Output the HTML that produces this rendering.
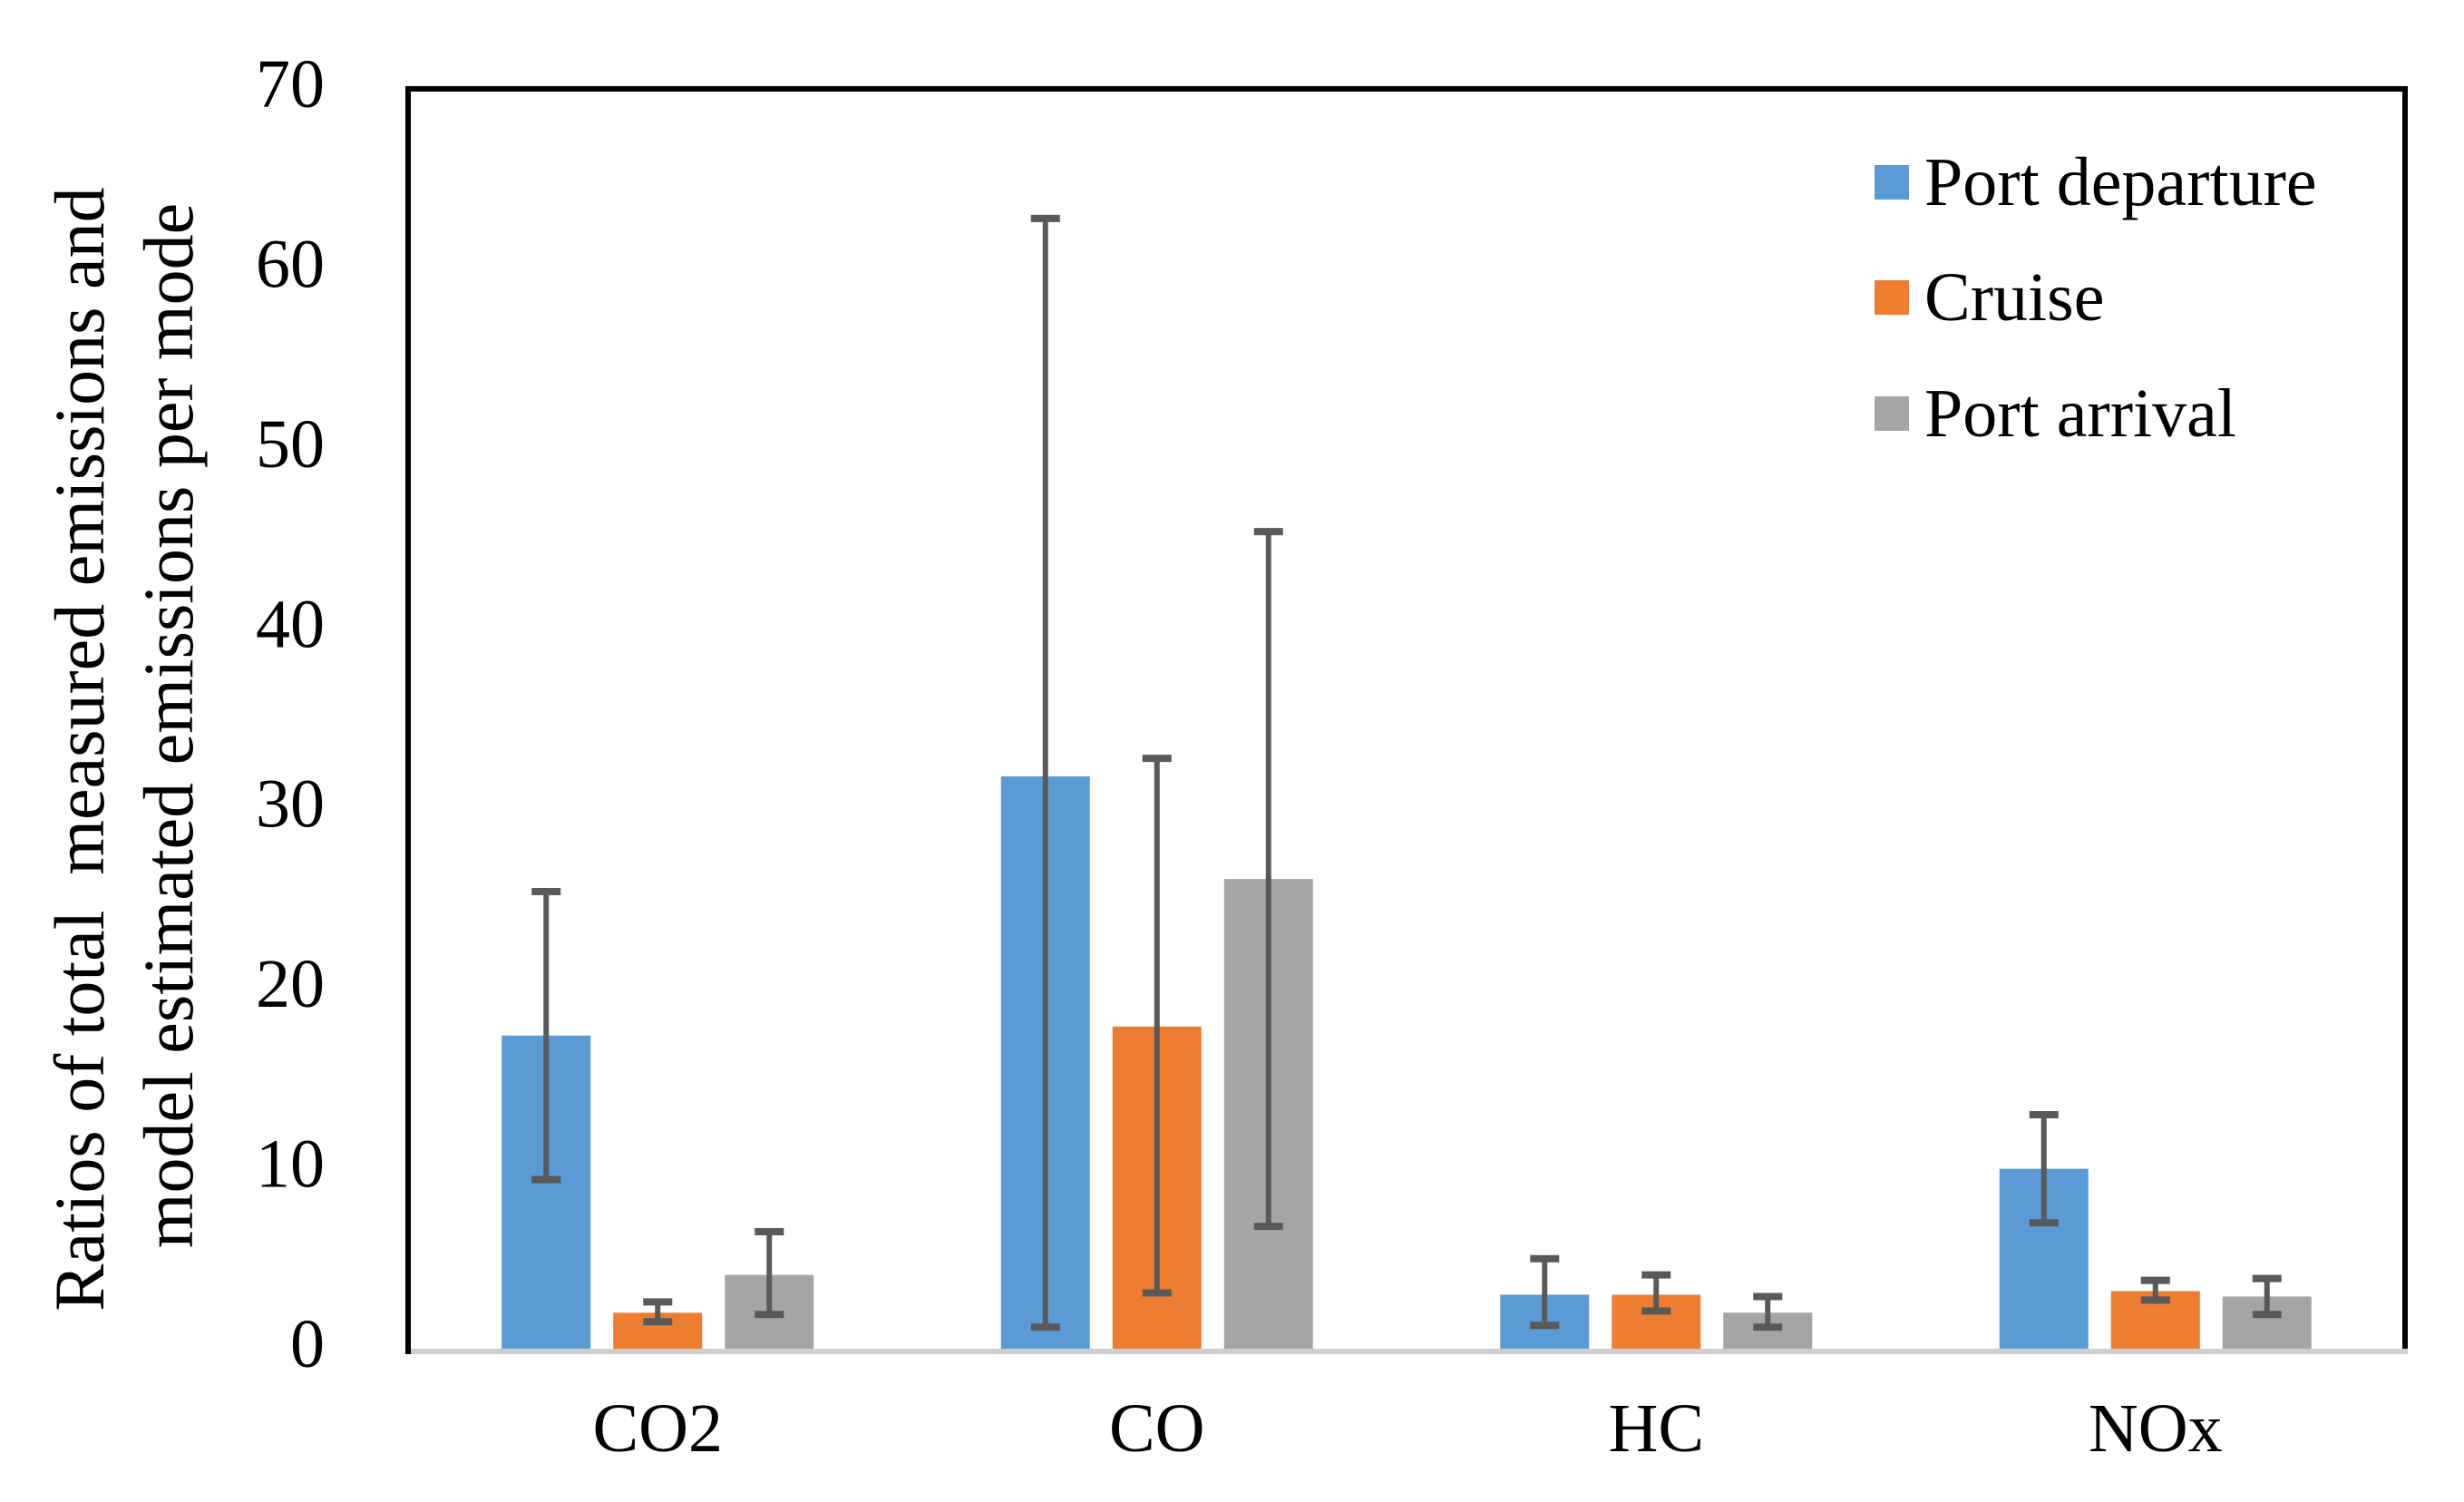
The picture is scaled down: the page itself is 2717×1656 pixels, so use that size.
<!DOCTYPE html>
<html><head><meta charset="utf-8"><style>
html,body{margin:0;padding:0;background:#fff;}
svg{display:block;font-family:"Liberation Serif",serif;}
</style></head><body>
<svg id="chart" width="2717" height="1656" viewBox="0 0 2717 1656" xmlns="http://www.w3.org/2000/svg">
<rect x="0" y="0" width="2717" height="1656" fill="#fff"/>
<g id="bars"></g>
<g id="errs"></g>
<path d="M450,1490 L450,98 L2652,98 L2652,1490" fill="none" stroke="#000" stroke-width="6"/>
<line x1="447" y1="1490" x2="2655" y2="1490" stroke="#cfcfcf" stroke-width="6"/>
<line x1="450" y1="98" x2="450" y2="1493" stroke="#000" stroke-width="6"/>
<g id="yticks" font-size="76" text-anchor="end"></g>
<g id="xticks" font-size="76" text-anchor="middle"></g>
<g font-size="78" text-anchor="middle">
<text transform="translate(114,826) rotate(-90)" xml:space="preserve">Ratios of total  measured emissions and</text>
<text transform="translate(212,800) rotate(-90)">model estimated emissions per mode</text>
</g>
<g id="legend" font-size="76"></g>
</svg>
<script>
const categories = ["CO2", "CO", "HC", "NOx"];
const seriesNames = ["Port departure", "Cruise", "Port arrival"];
const seriesColors = ["#5b9bd5", "#ed7d31", "#a5a5a5"];
const departure = [17.4, 31.8, 3.0, 10.0];
const cruise = [2.0, 17.9, 3.0, 3.2];
const arrival = [4.1, 26.1, 2.0, 2.9];
const departureHigh = [25.4, 62.8, 5.0, 13.0];
const departureLow = [9.4, 1.2, 1.3, 7.0];
const cruiseHigh = [2.6, 32.8, 4.1, 3.8];
const cruiseLow = [1.5, 3.1, 2.1, 2.7];
const arrivalHigh = [6.5, 45.4, 2.9, 3.9];
const arrivalLow = [1.9, 6.8, 1.2, 1.9];
const yTicks = [0, 10, 20, 30, 40, 50, 60, 70];

const NS = "http://www.w3.org/2000/svg";
const plotL = 450, plotR = 2652, plotT = 98, plotB = 1487, yMax = 70;
function y(v){ return plotB - v / yMax * (plotB - plotT); }
const band = (plotR - plotL) / categories.length;
function xCenter(i){ return plotL + band * (i + 0.5); }
const barW = 98, step = 123;
function mk(tag, attrs, parent){ const e = document.createElementNS(NS, tag); for (const k in attrs) e.setAttribute(k, attrs[k]); parent.appendChild(e); return e; }

const values = [departure, cruise, arrival];
const highs = [departureHigh, cruiseHigh, arrivalHigh];
const lows = [departureLow, cruiseLow, arrivalLow];
const gB = document.getElementById('bars'), gE = document.getElementById('errs');
categories.forEach((c, i) => {
  values.forEach((vals, s) => {
    const cx = xCenter(i) + (s - 1) * step;
    const r = mk('rect', {x: cx - barW/2, y: y(vals[i]), width: barW, height: y(0) - y(vals[i]), fill: seriesColors[s]}, gB);
    
    
    const g = mk('g', {stroke: '#595959', 'stroke-width': 6}, gE);
    
    
    mk('line', {x1: cx, x2: cx, y1: y(highs[s][i]), y2: y(lows[s][i])}, g);
    mk('line', {x1: cx - 16, x2: cx + 16, y1: y(highs[s][i]), y2: y(highs[s][i]), 'stroke-width': 8}, g);
    mk('line', {x1: cx - 16, x2: cx + 16, y1: y(lows[s][i]), y2: y(lows[s][i]), 'stroke-width': 8}, g);
  });
  const t = mk('text', {x: xCenter(i), y: 1600}, document.getElementById('xticks'));
  t.textContent = c;
  
  
});
const gY = document.getElementById('yticks');
yTicks.forEach(v => {
  const t = mk('text', {x: 358, y: y(v) + 20}, gY);
  t.textContent = v;
  
  
});
const gL = document.getElementById('legend');
const legendY = [201, 328, 456];
seriesNames.forEach((n, s) => {
  const g = mk('g', {}, gL);
  
  
  mk('rect', {x: 2067, y: legendY[s] - 19, width: 38, height: 38, fill: seriesColors[s]}, g);
  const t = mk('text', {x: 2122, y: legendY[s] + 25}, g);
  t.textContent = n;
});
</script>
</body></html>
